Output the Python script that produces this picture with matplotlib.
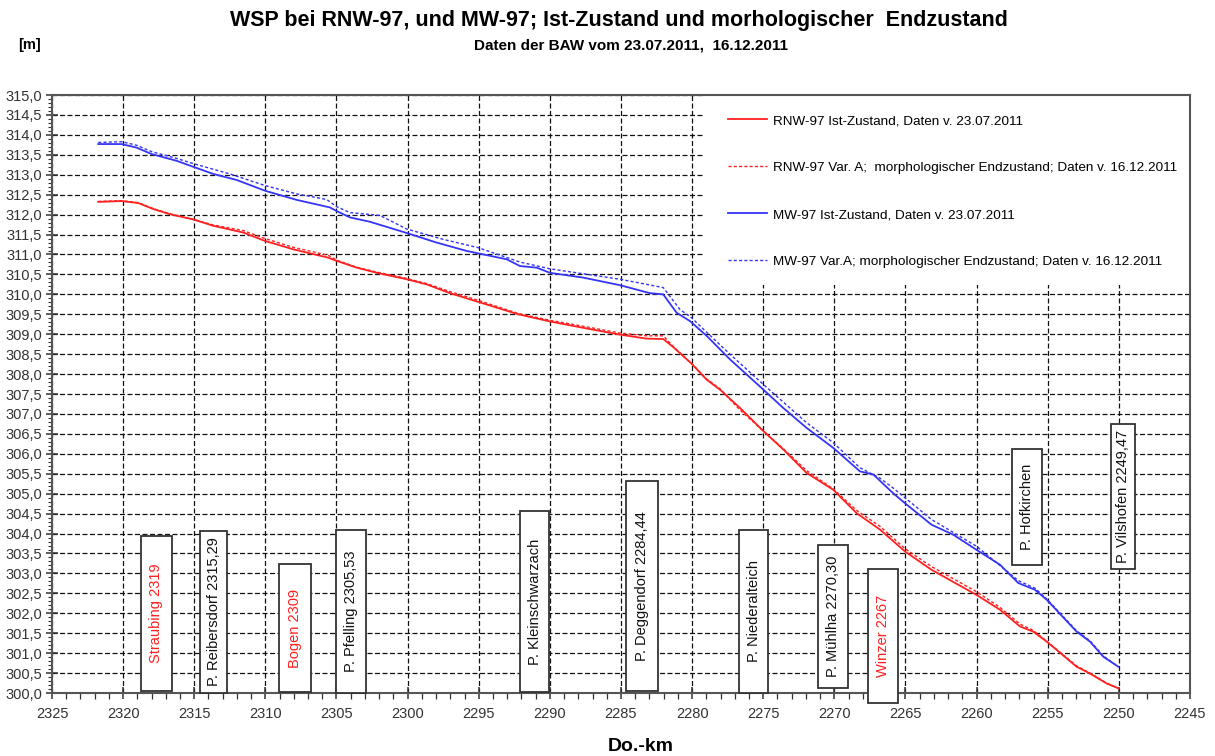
import numpy as np
import matplotlib
matplotlib.use("Agg")
import matplotlib.pyplot as plt
from matplotlib.patches import Rectangle
from matplotlib.ticker import MultipleLocator, FuncFormatter

plt.rcParams['font.family'] = ['Liberation Sans', 'DejaVu Sans']

# RNW-97 Ist-Zustand (23.07.2011)
rnw_ist_km = [2321.75, 2320.1, 2318.93, 2317.88, 2316.7, 2315.07, 2313.66, 2311.55, 2310.03,
              2308.04, 2305.58, 2304.99, 2303.58, 2302.17, 2300.07, 2298.66, 2297.02, 2295.03,
              2292.22, 2289.99, 2287.65, 2285.07, 2283.2, 2282.03, 2281.4, 2280.03, 2278.98,
              2278.04, 2276.63, 2274.99, 2273.59, 2271.95, 2270.08, 2268.43, 2266.79, 2265.03,
              2263.16, 2260.0, 2258.36, 2256.95, 2256.02, 2255.07, 2252.97, 2252.03, 2250.86, 2250.04]
rnw_ist = [312.32, 312.34, 312.29, 312.14, 312.01, 311.88, 311.72, 311.55, 311.34,
           311.13, 310.92, 310.84, 310.67, 310.54, 310.38, 310.25, 310.03, 309.81,
           309.50, 309.32, 309.16, 308.99, 308.89, 308.88, 308.70, 308.26, 307.86,
           307.61, 307.15, 306.57, 306.11, 305.52, 305.10, 304.51, 304.10, 303.55,
           303.09, 302.46, 302.09, 301.67, 301.54, 301.29, 300.66, 300.49, 300.24, 300.12]

# RNW-97 Var. A, morphologischer Endzustand (16.12.2011)
rnw_var_km = rnw_ist_km
rnw_var = [312.33, 312.35, 312.30, 312.15, 312.02, 311.88, 311.74, 311.60, 311.40,
           311.18, 310.98, 310.86, 310.68, 310.56, 310.40, 310.27, 310.07, 309.85,
           309.52, 309.35, 309.20, 309.03, 308.96, 308.96, 308.72, 308.26, 307.88,
           307.63, 307.10, 306.57, 306.13, 305.58, 305.12, 304.58, 304.18, 303.62,
           303.17, 302.54, 302.15, 301.73, 301.57, 301.30, 300.68, 300.50, 300.25, 300.12]

# MW-97 Ist-Zustand (23.07.2011)
mw_ist_km = [2321.75, 2320.1, 2319.05, 2318.0, 2316.24, 2315.07, 2313.66, 2312.02, 2310.03,
             2307.8, 2305.46, 2304.99, 2304.05, 2302.64, 2300.07, 2297.97, 2295.86, 2293.04,
             2292.1, 2290.93, 2289.99, 2287.65, 2285.07, 2282.96, 2282.03, 2281.09, 2280.15,
             2278.98, 2277.34, 2274.99, 2273.59, 2271.95, 2270.08, 2268.2, 2267.26, 2265.86,
             2265.03, 2263.16, 2261.63, 2260.0, 2258.36, 2257.07, 2255.9, 2255.07, 2252.97,
             2252.03, 2251.09, 2250.04]
mw_ist = [313.77, 313.77, 313.68, 313.52, 313.35, 313.20, 313.02, 312.87, 312.60,
          312.37, 312.18, 312.09, 311.93, 311.82, 311.54, 311.30, 311.09, 310.88,
          310.71, 310.67, 310.54, 310.42, 310.23, 310.03, 310.00, 309.54, 309.33,
          308.96, 308.37, 307.61, 307.15, 306.65, 306.15, 305.56, 305.48, 305.01,
          304.76, 304.22, 303.97, 303.59, 303.22, 302.76, 302.59, 302.34, 301.54,
          301.29, 300.91, 300.66]

# MW-97 Var. A, morphologischer Endzustand (16.12.2011)
mw_var_km = [2321.75, 2320.1, 2319.05, 2318.0, 2316.24, 2315.07, 2312.49, 2310.03, 2307.8,
             2305.69, 2304.99, 2304.05, 2301.94, 2300.07, 2297.5, 2295.03, 2292.1, 2289.99,
             2285.07, 2282.03, 2280.85, 2280.03, 2278.98, 2277.34, 2274.99, 2271.95, 2270.08,
             2268.2, 2266.79, 2265.86, 2263.16, 2260.0, 2257.07, 2255.9, 2255.07, 2252.97,
             2252.03, 2251.09, 2250.04]
mw_var = [313.81, 313.83, 313.74, 313.58, 313.41, 313.28, 313.02, 312.73, 312.52,
          312.38, 312.20, 312.05, 311.98, 311.64, 311.38, 311.17, 310.81, 310.64,
          310.38, 310.17, 309.62, 309.41, 309.05, 308.50, 307.74, 306.78, 306.28,
          305.65, 305.39, 305.14, 304.35, 303.68, 302.82, 302.63, 302.36, 301.56,
          301.31, 300.93, 300.66]

# Pegel / Orte: Text, km-Bereich, Höhenbereich, rot?
stations = ["Straubing 2319", "P. Reibersdorf 2315,29", "Bogen 2309", "P. Pfelling 2305,53",
            "P. Kleinschwarzach", "P. Deggendorf 2284,44", "P. Niederalteich",
            "P. Mühlha 2270,30", "Winzer 2267", "P. Hofkirchen", "P. Vilshofen 2249,47"]
station_km = [(2318.76, 2316.59), (2314.60, 2312.68), (2309.02, 2306.77), (2305.06, 2302.93),
              (2292.10, 2290.04), (2284.65, 2282.38), (2276.68, 2274.65), (2271.13, 2269.02),
              (2267.66, 2265.55), (2257.53, 2255.42), (2250.57, 2248.87)]
station_h = [(300.06, 303.95), (300.0, 304.07), (300.02, 303.23), (300.0, 304.10),
             (300.02, 304.56), (300.05, 305.31), (300.0, 304.10), (300.12, 303.72),
             (299.74, 303.12), (303.20, 306.13), (303.12, 306.76)]
station_red = [True, False, True, False, False, False, False, False, True, False, False]

red = '#ff2020'
blue = '#3535f5'

fig = plt.figure(figsize=(12.15, 7.56), dpi=100)
ax = fig.add_axes([0.0428, 0.0833, 0.9366, 0.791])

ax.plot(rnw_ist_km, rnw_ist, color=red, lw=1.3, label="RNW-97 Ist-Zustand, Daten v. 23.07.2011")
ax.plot(rnw_var_km, rnw_var, color=red, lw=1.0, dashes=(2.2, 1.6),
        label="RNW-97 Var. A;  morphologischer Endzustand; Daten v. 16.12.2011")
ax.plot(mw_ist_km, mw_ist, color=blue, lw=1.3, label="MW-97 Ist-Zustand, Daten v. 23.07.2011")
ax.plot(mw_var_km, mw_var, color=blue, lw=1.0, dashes=(2.2, 1.6),
        label="MW-97 Var.A; morphologischer Endzustand; Daten v. 16.12.2011")

ax.set_xlim(2325, 2245)
ax.set_ylim(300, 315)
ax.xaxis.set_major_locator(MultipleLocator(5))
ax.xaxis.set_minor_locator(MultipleLocator(1))
ax.yaxis.set_major_locator(MultipleLocator(0.5))
ax.yaxis.set_minor_locator(MultipleLocator(0.1))
ax.xaxis.set_major_formatter(FuncFormatter(lambda v, p: f"{v:.0f}"))
ax.yaxis.set_major_formatter(FuncFormatter(lambda v, p: f"{v:.1f}".replace('.', ',')))
ax.tick_params(axis='x', which='major', direction='inout', length=8, width=1.1,
               labelsize=10.5, pad=6, colors='#333333')
ax.tick_params(axis='x', which='minor', direction='out', length=4, width=0.9, colors='#333333')
ax.tick_params(axis='y', which='major', direction='inout', length=8, width=1.1,
               labelsize=10.5, pad=3, colors='#333333')
ax.tick_params(axis='y', which='minor', direction='out', length=3, width=0.8, colors='#333333')
for s in ax.spines.values():
    s.set_color('#555555')
    s.set_linewidth(1.5)
ax.set_axisbelow(True)
ax.grid(True, which='major', color='#111111', linestyle=(0, (4, 2)), linewidth=0.9)

# weisse Fläche hinter der Legende
ax.add_patch(Rectangle((0.572, 0.682), 0.428, 0.318, transform=ax.transAxes,
                       facecolor='white', edgecolor='none', zorder=1.5))
ax.legend(loc='upper left', bbox_to_anchor=(0.5895, 0.976), frameon=False, fontsize=9.7,
          handlelength=2.9, handletextpad=0.45, labelspacing=2.56, borderaxespad=0)

for name, (k0, k1), (h0, h1), is_red in zip(stations, station_km, station_h, station_red):
    ax.add_patch(Rectangle((k0, h0), k1 - k0, h1 - h0, facecolor='white', edgecolor='#333333',
                           linewidth=1.3, zorder=3, clip_on=False))
    ax.text((k0 + k1) / 2, (h0 + h1) / 2, name, rotation=90, ha='center', va='center',
            fontsize=10.5, color=red if is_red else '#111111', zorder=4)

fig.text(0.5095, 0.973, "WSP bei RNW-97, und MW-97; Ist-Zustand und morhologischer  Endzustand",
         ha='center', va='center', fontsize=15.5, fontweight='bold')
fig.text(0.519, 0.940, "Daten der BAW vom 23.07.2011,  16.12.2011",
         ha='center', va='center', fontsize=11, fontweight='bold')
fig.text(0.024, 0.940, "[m]", ha='center', va='center', fontsize=10.5, fontweight='bold')
fig.text(0.5276, 0.012, "Do.-km", ha='center', va='center', fontsize=14, fontweight='bold')

fig.savefig("out.png", dpi=100)
